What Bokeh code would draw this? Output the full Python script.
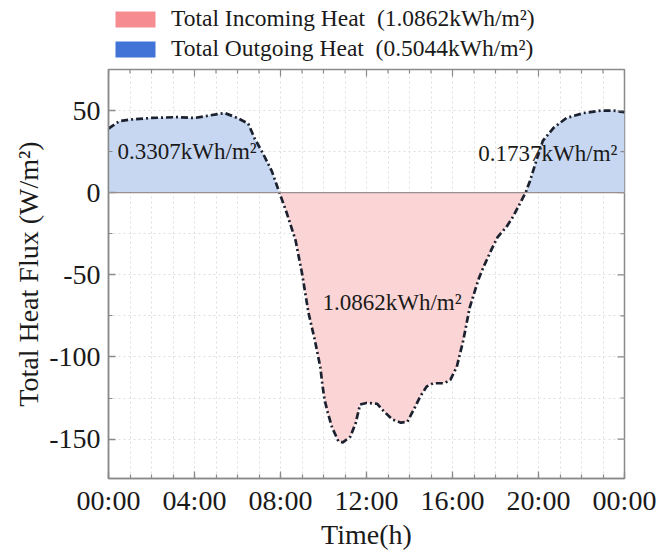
import numpy as np
from bokeh.plotting import figure
from bokeh.layouts import column
from bokeh.models import (ColumnDataSource, FixedTicker, Legend, LegendItem,
                          Span, Label, Range1d)
from bokeh.embed import file_html
from bokeh.resources import INLINE

# Daily total heat flux profile (hour of day, W/m²)
hours = [0.0, 0.5, 1.0, 2.0, 3.2, 4.0, 4.7, 5.4, 6.0, 6.5, 6.8, 7.2, 7.6, 7.95,
         8.3, 8.7, 9.0, 9.3, 9.6, 9.85, 9.95, 10.05, 10.2, 10.4, 10.7, 10.9,
         11.25, 11.5, 11.7, 12.0, 12.5, 12.8, 13.2, 13.6, 13.9, 14.2, 14.5,
         14.8, 15.1, 15.6, 15.9, 16.2, 16.5, 16.8, 17.2, 17.45, 17.8, 18.1,
         18.5, 18.8, 19.2, 19.4, 19.6, 19.9, 20.2, 20.7, 21.3, 22.1, 22.9,
         23.5, 24.0]
flux = [39, 43.5, 44.5, 45.5, 46, 45.5, 47, 48.5, 45.5, 42, 33, 23.5, 13, 0,
        -12.7, -29, -49, -73, -90, -106, -117, -126, -134, -143, -151.5, -152,
        -148.5, -140, -129, -128, -128.5, -133, -138, -140, -139.5, -132, -124,
        -118, -116, -116, -114, -106, -90, -70, -53, -45, -35, -27,
        -21, -15, -5, 0, 7, 19.5, 31.5, 39.5, 45.5, 48.5, 50,
        50, 49]

# Integrated energy for each part of the day (kWh/m²)
outgoing_morning = "0.3307kWh/m²"
outgoing_evening = "0.1737kWh/m²"
incoming_day = "1.0862kWh/m²"
legend_labels = ["Total Incoming Heat\u00a0 (1.0862kWh/m²)",
                 "Total Outgoing Heat\u00a0 (0.5044kWh/m²)"]

x_ticks = [0, 4, 8, 12, 16, 20, 24]
x_tick_labels = ["00:00", "04:00", "08:00", "12:00", "16:00", "20:00", "00:00"]
x_minor = list(range(0, 25))
y_ticks = [-150, -100, -50, 0, 50]
y_tick_labels = ["-150", "-100", "-50", "0", "50"]
y_minor = list(range(-175, 76, 25))

X0, X1, Y0, Y1 = 0, 24, -174, 75
LEG_H = 66
FRAME_W, FRAME_H = 516, 409

FONT = "Liberation Serif"
FRAME = "#8a8a8a"
INK = "#1a1a1a"

flux_arr = np.array(flux, dtype=float)
src = ColumnDataSource(dict(
    x=hours, y=flux_arr,
    neg=np.minimum(flux_arr, 0.0),
    pos=np.maximum(flux_arr, 0.0),
    zero=np.zeros_like(flux_arr),
))

p = figure(width=666, height=555 - LEG_H,
           x_range=Range1d(X0, X1), y_range=Range1d(Y0, Y1),
           output_backend="svg", toolbar_location=None,
           min_border_left=108, min_border_right=42,
           min_border_top=69 - LEG_H, min_border_bottom=77,
           x_axis_label="Time(h)", y_axis_label="Total Heat Flux (W/m²)")

p.outline_line_color = FRAME
p.outline_line_width = 1.5
p.background_fill_color = "white"

# Grid on every hour / every 25 W/m²
p.xgrid.ticker = FixedTicker(ticks=x_minor)
p.ygrid.ticker = FixedTicker(ticks=y_minor)
for g in (p.xgrid, p.ygrid):
    g.grid_line_color = "#dedede"
    g.grid_line_dash = "2 3"
    g.grid_line_width = 1

xa = p.xaxis[0]
xa.ticker = FixedTicker(ticks=x_ticks, minor_ticks=x_minor)
xa.major_label_overrides = {t: s for t, s in zip(x_ticks, x_tick_labels)}
ya = p.yaxis[0]
ya.ticker = FixedTicker(ticks=y_ticks, minor_ticks=y_minor)
ya.major_label_overrides = {t: s for t, s in zip(y_ticks, y_tick_labels)}
for ax in (xa, ya):
    ax.axis_line_color = FRAME
    ax.axis_line_width = 1.5
    ax.major_tick_line_color = FRAME
    ax.minor_tick_line_color = FRAME
    ax.major_tick_line_width = 1.3
    ax.minor_tick_line_width = 1.2
    ax.major_tick_in = 7
    ax.major_tick_out = 0
    ax.minor_tick_in = 4
    ax.minor_tick_out = 0
    ax.major_label_text_font = FONT
    ax.major_label_text_font_size = "28px"
    ax.major_label_text_color = INK
    ax.axis_label_text_font = FONT
    ax.axis_label_text_font_size = "28px"
    ax.axis_label_text_font_style = "normal"
    ax.axis_label_text_color = INK
xa.major_label_standoff = 6
xa.axis_label_standoff = 0
ya.major_label_standoff = 8
ya.axis_label_standoff = 2

# Filled areas: outgoing (above zero) and incoming (below zero)
p.varea(x="x", y1="zero", y2="pos", source=src, fill_color="#C7D7F1")
p.varea(x="x", y1="neg", y2="zero", source=src, fill_color="#FBD5D5")
p.add_layout(Span(location=0, dimension="width", line_color="#9a8f8f",
                  line_width=1.3))

p.line(x="x", y="y", source=src, line_color="#1c2130", line_width=2.7,
       line_dash="7 3 2 3")

# Mirrored inward ticks along the top and right edges of the frame
px_y = (Y1 - Y0) / FRAME_H
px_x = (X1 - X0) / FRAME_W
top_len = [7 * px_y if t in x_ticks else 4 * px_y for t in x_minor]
right_len = [7 * px_x if t in y_ticks else 4 * px_x for t in y_minor]
p.segment(x0=x_minor, y0=[Y1] * len(x_minor), x1=x_minor,
          y1=[Y1 - d for d in top_len], line_color=FRAME, line_width=1.2)
p.segment(x0=[X1] * len(y_minor), y0=y_minor,
          x1=[X1 - d for d in right_len], y1=y_minor,
          line_color=FRAME, line_width=1.2)

for txt, x, y in ((outgoing_morning, 0.42, 25), (outgoing_evening, 17.2, 24),
                  (incoming_day, 9.95, -67)):
    p.add_layout(Label(x=x, y=y, text=txt, text_font=FONT,
                       text_font_size="23px", text_baseline="middle",
                       text_align="left", text_color=INK))

# Legend strip above the chart (its frame lines up with the chart's frame)
lg = figure(width=666, height=LEG_H, x_range=Range1d(0, 1),
            y_range=Range1d(0, 1), output_backend="svg",
            toolbar_location=None, min_border=0)
lg.axis.visible = False
lg.grid.visible = False
lg.outline_line_color = None
sw = ColumnDataSource(dict(x=[-3, -2], y1=[0, 0], y2=[0, 0]))
r_in = lg.varea(x="x", y1="y1", y2="y2", source=sw, fill_color="#F68C92")
r_out = lg.varea(x="x", y1="y1", y2="y2", source=sw, fill_color="#4274D8")
legend = Legend(items=[LegendItem(label=legend_labels[0], renderers=[r_in]),
                       LegendItem(label=legend_labels[1], renderers=[r_out])],
                orientation="vertical", location=(2, 4),
                border_line_color=None, background_fill_alpha=0,
                label_text_font=FONT, label_text_font_size="23.5px",
                label_text_color=INK,
                glyph_width=50, glyph_height=20, label_standoff=11,
                label_height=20, spacing=3, padding=2, margin=0)
lg.add_layout(legend)

page = column(lg, p, spacing=0)
open("out.html", "w").write(file_html(page, INLINE))
